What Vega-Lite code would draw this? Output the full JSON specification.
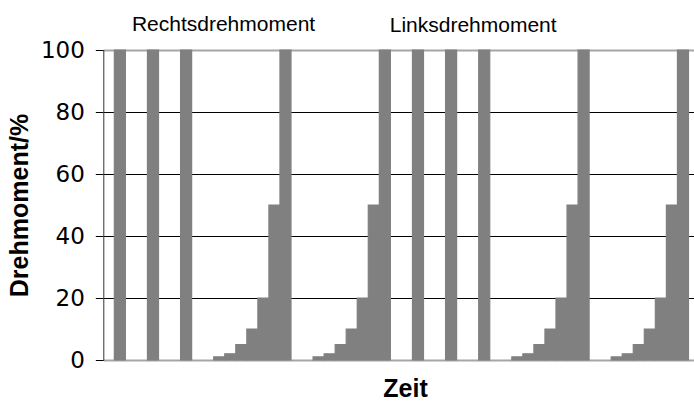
{
  "$schema": "https://vega.github.io/schema/vega-lite/v6.json",
  "width": 590.7,
  "height": 310,
  "autosize": {"type": "none"},
  "padding": {"left": 103.3, "top": 50, "right": 0, "bottom": 41},
  "background": "white",
  "config": {"view": {"stroke": null}},
  "layer": [
    {
      "data": {
        "values": [
          {"t": 1, "v": 100}, {"t": 4, "v": 100}, {"t": 7, "v": 100},
          {"t": 10, "v": 1}, {"t": 11, "v": 2}, {"t": 12, "v": 5}, {"t": 13, "v": 10}, {"t": 14, "v": 20}, {"t": 15, "v": 50}, {"t": 16, "v": 100},
          {"t": 19, "v": 1}, {"t": 20, "v": 2}, {"t": 21, "v": 5}, {"t": 22, "v": 10}, {"t": 23, "v": 20}, {"t": 24, "v": 50}, {"t": 25, "v": 100},
          {"t": 28, "v": 100}, {"t": 31, "v": 100}, {"t": 34, "v": 100},
          {"t": 37, "v": 1}, {"t": 38, "v": 2}, {"t": 39, "v": 5}, {"t": 40, "v": 10}, {"t": 41, "v": 20}, {"t": 42, "v": 50}, {"t": 43, "v": 100},
          {"t": 46, "v": 1}, {"t": 47, "v": 2}, {"t": 48, "v": 5}, {"t": 49, "v": 10}, {"t": 50, "v": 20}, {"t": 51, "v": 50}, {"t": 52, "v": 100}
        ]
      },
      "mark": {"type": "bar", "color": "#808080", "stroke": "#808080", "strokeWidth": 1.2},
      "encoding": {
        "x": {
          "field": "t",
          "type": "ordinal",
          "scale": {
            "type": "band",
            "domain": [0,1,2,3,4,5,6,7,8,9,10,11,12,13,14,15,16,17,18,19,20,21,22,23,24,25,26,27,28,29,30,31,32,33,34,35,36,37,38,39,40,41,42,43,44,45,46,47,48,49,50,51,52],
            "paddingInner": 0,
            "paddingOuter": 0.25,
            "align": 0
          },
          "axis": {
            "labels": false,
            "ticks": false,
            "domain": false,
            "grid": false,
            "title": "Zeit",
            "titleFont": "Liberation Sans",
            "titleFontWeight": "bold",
            "titleFontSize": 25,
            "titleColor": "black",
            "titleX": 301.7,
            "titleY": 36,
            "titleBaseline": "alphabetic"
          }
        },
        "y": {
          "field": "v",
          "type": "quantitative",
          "scale": {"domain": [0, 100], "nice": false},
          "axis": {
            "values": [0, 20, 40, 60, 80, 100],
            "title": "Drehmoment/%",
            "titleFont": "Liberation Sans",
            "titleFontWeight": "bold",
            "titleFontSize": 25,
            "titleColor": "black",
            "titleX": -76.3,
            "titleY": 155,
            "titleBaseline": "alphabetic",
            "titleAngle": 270,
            "labelFont": "DejaVu Sans",
            "labelFontSize": 23,
            "labelColor": "black",
            "labelPadding": 11,
            "tickSize": 8,
            "tickColor": "black",
            "domainColor": "#333333",
            "domainWidth": 1,
            "grid": true,
            "gridColor": {"condition": {"test": "datum.value === 0 || datum.value === 100", "value": "#a6a6a6"}, "value": "black"},
            "gridWidth": {"condition": {"test": "datum.value === 0 || datum.value === 100", "value": 2}, "value": 1},
            "gridOpacity": 1
          }
        }
      }
    },
    {
      "data": {"values": [{"t": 10, "v": 106.2, "label": "Rechtsdrehmoment"}]},
      "mark": {"type": "text", "font": "Liberation Sans", "fontSize": 21, "color": "black", "baseline": "alphabetic", "align": "center", "dx": 4.3},
      "encoding": {
        "x": {"field": "t", "type": "ordinal"},
        "y": {"field": "v", "type": "quantitative"},
        "text": {"field": "label"}
      }
    },
    {
      "data": {"values": [{"t": 33, "v": 105.8, "label": "Linksdrehmoment"}]},
      "mark": {"type": "text", "font": "Liberation Sans", "fontSize": 21, "color": "black", "baseline": "alphabetic", "align": "center"},
      "encoding": {
        "x": {"field": "t", "type": "ordinal"},
        "y": {"field": "v", "type": "quantitative"},
        "text": {"field": "label"}
      }
    }
  ]
}
